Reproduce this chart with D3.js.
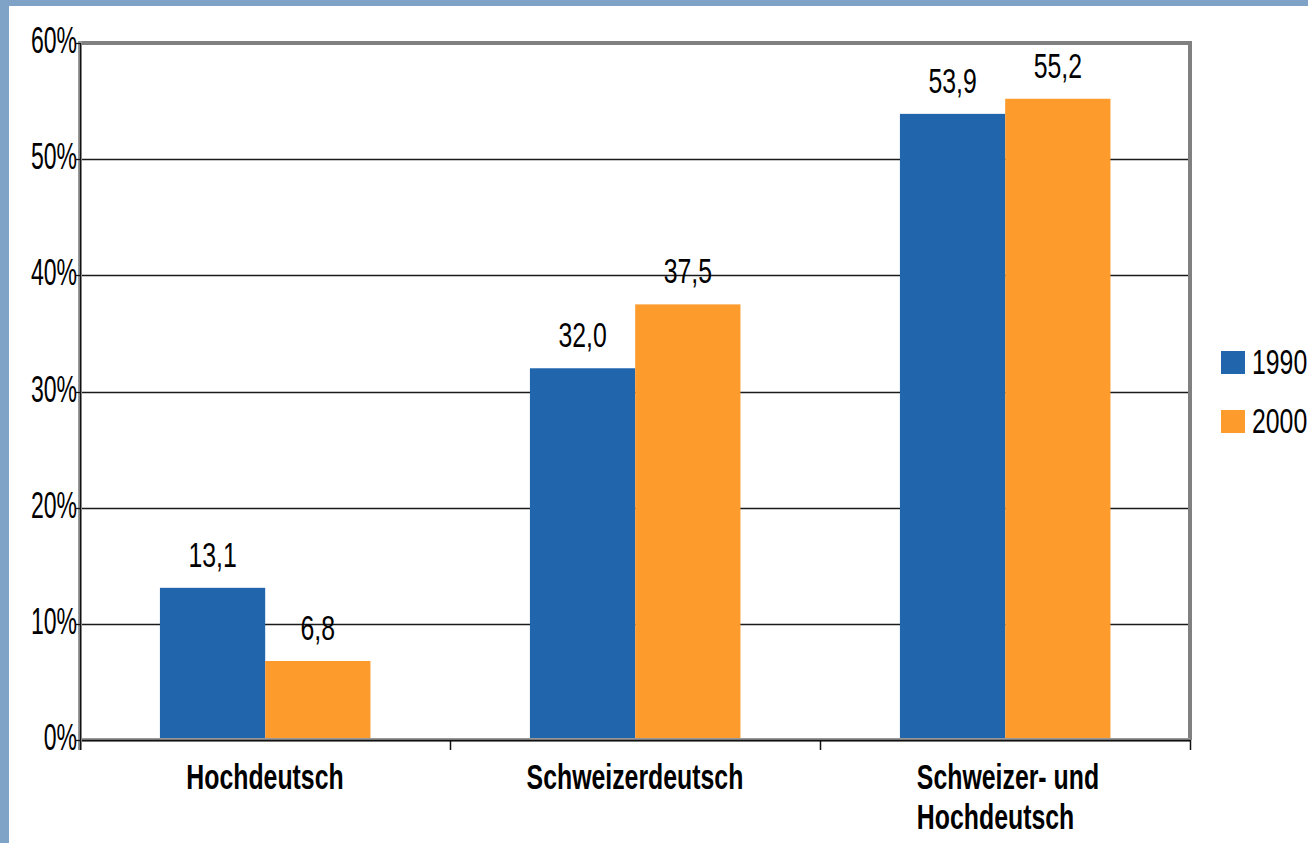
<!DOCTYPE html>
<html>
<head>
<meta charset="utf-8">
<title>Hochdeutsch / Schweizerdeutsch</title>
<script src="https://cdn.jsdelivr.net/npm/d3@7"></script>
<style>
body { margin:0; background:#fff; }
text { font-family: "Liberation Sans", Arial, sans-serif; fill:#000; }
.cat { font-weight:bold; }
</style>
</head>
<body>
<script>
// data
var categories = ["Hochdeutsch", "Schweizerdeutsch", "Schweizer- und\nHochdeutsch"];
var years = ["1990", "2000"];
var values1990 = [13.1, 32.0, 53.9];
var values2000 = [6.8, 37.5, 55.2];
var yTicks = [0, 0.1, 0.2, 0.3, 0.4, 0.5, 0.6];
var colors = ["#2166ad", "#fd9c2d"];

var w = 1308, h = 843;
var mLeft = 80, mRight = 1190, mTop = 43, mBottom = 740;

var svg = d3.select("body").append("svg").attr("width", w).attr("height", h);

// light blue frame on top and left
svg.append("rect").attr("x",0).attr("y",0).attr("width",w).attr("height",6).attr("fill","#7fa3c6");
svg.append("rect").attr("x",0).attr("y",0).attr("width",9).attr("height",h).attr("fill","#7fa3c6");

var y = d3.scaleLinear().domain([0, 0.6]).range([mBottom, mTop]);
var x0 = d3.scaleBand().domain(categories).range([mLeft, mRight]);
var step = x0.step();
var x1 = d3.scaleBand().domain(years).range([step*0.216, step*0.785]);

// grid
svg.selectAll(".grid").data(yTicks.slice(1)).enter().append("line")
  .attr("x1", mLeft).attr("x2", mRight)
  .attr("y1", function(d){return Math.round(y(d))+0.5;})
  .attr("y2", function(d){return Math.round(y(d))+0.5;})
  .attr("stroke", "#1a1a1a").attr("stroke-width", 1.3);

// frame top & right (grey)
svg.append("line").attr("x1", mLeft).attr("x2", mRight+2).attr("y1", mTop).attr("y2", mTop)
  .attr("stroke", "#808080").attr("stroke-width", 4);
svg.append("line").attr("x1", mRight).attr("x2", mRight).attr("y1", mTop-2).attr("y2", mBottom)
  .attr("stroke", "#808080").attr("stroke-width", 4);

// bars
var series = [values1990, values2000];
categories.forEach(function(c, ci){
  years.forEach(function(yr, si){
    var v = series[si][ci];
    var bx = x0(c) + x1(yr);
    svg.append("rect")
      .attr("x", bx).attr("y", y(v/100))
      .attr("width", x1.bandwidth()).attr("height", mBottom - y(v/100))
      .attr("fill", colors[si]);
    var lx = bx + x1.bandwidth()/2, ly = y(v/100) - 21;
    svg.append("text")
      .attr("transform", "translate(" + lx + "," + ly + ") scale(0.69,1)")
      .attr("text-anchor", "middle")
      .attr("font-size", "36px")
      .text(d3.format(".1f")(v).replace(".", ","));
  });
});

// bottom axis
svg.append("line").attr("x1", mLeft).attr("x2", mRight).attr("y1", mBottom).attr("y2", mBottom)
  .attr("stroke", "#999").attr("stroke-width", 4);
svg.append("line").attr("x1", mLeft).attr("x2", mRight).attr("y1", mBottom+0.5).attr("y2", mBottom+0.5)
  .attr("stroke", "#111").attr("stroke-width", 1.3);
var catTicks = [mLeft].concat(categories.map(function(c){return x0(c)+step;}));
svg.selectAll(".ctick").data(catTicks).enter().append("line")
  .attr("x1", function(d){return Math.round(d)+0.5;}).attr("x2", function(d){return Math.round(d)+0.5;})
  .attr("y1", mBottom).attr("y2", mBottom+10)
  .attr("stroke", "#111").attr("stroke-width", 1.5);

// left axis
svg.append("line").attr("x1", mLeft).attr("x2", mLeft).attr("y1", mTop-2).attr("y2", mBottom+10)
  .attr("stroke", "#999").attr("stroke-width", 4);
svg.append("line").attr("x1", mLeft+0.5).attr("x2", mLeft+0.5).attr("y1", mTop).attr("y2", mBottom+10)
  .attr("stroke", "#111").attr("stroke-width", 1.3);
svg.selectAll(".ytick").data(yTicks).enter().append("line")
  .attr("x1", mLeft-4).attr("x2", mLeft)
  .attr("y1", function(d){return Math.round(y(d))+0.5;})
  .attr("y2", function(d){return Math.round(y(d))+0.5;})
  .attr("stroke", "#111").attr("stroke-width", 1.3);
svg.selectAll(".ylab").data(yTicks).enter().append("text")
  .attr("transform", function(d){return "translate(" + (mLeft-3) + "," + (y(d)+10) + ") scale(0.64,1)";})
  .attr("text-anchor", "end")
  .attr("font-size", "36px")
  .text(d3.format(".0%"));

// category labels
var catScale = 0.71;
categories.forEach(function(c){
  var lines = c.split("\n");
  var g = svg.append("g");
  var t = g.append("text").attr("class", "cat").attr("font-size", "35px");
  lines.forEach(function(l, i){
    t.append("tspan").attr("x", 0).attr("y", i*40).text(l);
  });
  var bw = t.node().getBBox().width * catScale;
  var cx = x0(c) + step/2 + (lines.length > 1 ? 3 : 0);
  g.attr("transform", "translate(" + (cx - bw/2) + ",789) scale(" + catScale + ",1)");
});

// legend
years.forEach(function(yr, i){
  var ly = 351 + i*59;
  svg.append("rect").attr("x", 1221).attr("y", ly).attr("width", 24).attr("height", 23).attr("fill", colors[i]);
  svg.append("text")
    .attr("transform", "translate(1252," + (ly+23) + ") scale(0.69,1)")
    .attr("font-size", "36px")
    .text(yr);
});
</script>
</body>
</html>
